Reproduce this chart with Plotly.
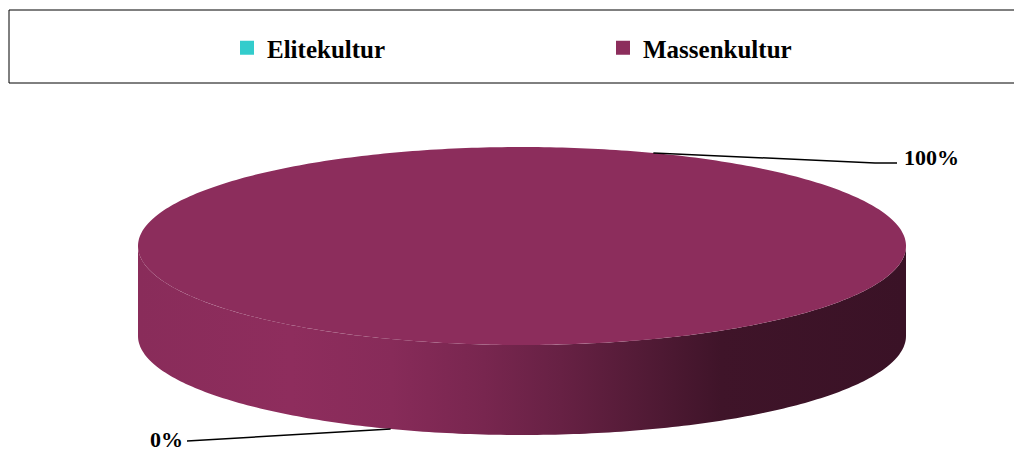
import numpy as np
import plotly.graph_objects as go

# chart data
categories = ["Elitekultur", "Massenkultur"]
values = [0, 100]
colors = ["#33CCCC", "#8C2D5C"]

W, H = 1014, 449
FONT = "Liberation Serif"

# 3d pie geometry (pixels)
cx, cy = 522, 246
rx, ry = 384, 99
depth = 90
first_angle = 200  # degrees, clockwise from 12 o'clock


def ell(phi, dz=0.0):
    r = np.radians(phi)
    return cx + rx * np.sin(r), cy - ry * np.cos(r) + dz


def shade(hex_color, f):
    h = hex_color.lstrip("#")
    rgb = [int(h[i:i + 2], 16) for i in (0, 2, 4)]
    return "rgb(%d,%d,%d)" % tuple(min(255, int(c * f)) for c in rgb)


vals = np.array(values, dtype=float)
frac = vals / vals.sum()
starts = first_angle + 360 * np.concatenate([[0], np.cumsum(frac)[:-1]])
ends = starts + 360 * frac

fig = go.Figure()

# side walls (front half of the cylinder only)
for i, cat in enumerate(categories):
    if frac[i] <= 0:
        continue
    if frac[i] >= 1:
        spans = [(90, 270)]
    else:
        spans = []
        for k in range(-1, 3):
            lo = max(starts[i], 90 + 360 * k)
            hi = min(ends[i], 270 + 360 * k)
            if hi > lo:
                spans.append((lo, hi))
    scale = [[0, shade(colors[i], 0.98)], [0.2, shade(colors[i], 1.02)],
             [0.33, shade(colors[i], 0.97)], [0.45, shade(colors[i], 0.86)],
             [0.55, shade(colors[i], 0.74)], [0.65, shade(colors[i], 0.6)],
             [0.76, shade(colors[i], 0.45)], [1, shade(colors[i], 0.42)]]
    for lo, hi in spans:
        a = np.linspace(lo, hi, 200)
        tx, ty = ell(a)
        bx, by = ell(a[::-1], depth)
        fig.add_trace(go.Scatter(
            x=np.concatenate([tx, bx]), y=np.concatenate([ty, by]),
            mode="none", fill="toself", showlegend=False, hoverinfo="skip",
            fillgradient=dict(type="horizontal", colorscale=scale,
                              start=cx - rx, stop=cx + rx)))

# top faces
for i, cat in enumerate(categories):
    if frac[i] <= 0:
        continue
    a = np.linspace(starts[i], ends[i], 400)
    ax, ay = ell(a)
    fig.add_trace(go.Scatter(
        x=np.concatenate([[cx], ax, [cx]]), y=np.concatenate([[cy], ay, [cy]]),
        mode="none", fill="toself", fillcolor=colors[i],
        showlegend=False, name=cat, hoverinfo="name"))

# data labels with leader lines
right_col, left_col = 897, 187
for i, cat in enumerate(categories):
    mid = (starts[i] + ends[i]) / 2
    front = np.cos(np.radians(mid)) < 0
    px_, py_ = ell(mid, depth if front else 0)
    right = np.sin(np.radians(mid)) > 0
    ex = right_col if right else left_col
    ey = py_ + (10 if right else 12)
    kx = ex - 22 if right else ex + 4
    fig.add_trace(go.Scatter(
        x=[px_, kx, ex], y=[py_, ey, ey], mode="lines",
        line=dict(color="black", width=1.5), showlegend=False, hoverinfo="skip"))
    fig.add_annotation(
        x=ex + (5 if right else -2), y=ey - (5.5 if right else 2),
        text="%d%%" % round(frac[i] * 100), showarrow=False,
        xanchor="left" if right else "right", yanchor="middle",
        font=dict(family=FONT, size=22, color="black", weight="bold"))

# legend entries
for i, cat in enumerate(categories):
    fig.add_trace(go.Scatter(
        x=[None], y=[None], mode="markers", name=cat,
        marker=dict(symbol="square", size=14, color=colors[i])))

# legend frame (runs off the right edge like the reference)
fig.add_shape(type="rect", x0=9, y0=10, x1=W + 10, y1=83,
              line=dict(color="black", width=1))

fig.update_layout(
    width=W, height=H, margin=dict(l=0, r=0, t=0, b=0),
    paper_bgcolor="white", plot_bgcolor="white",
    xaxis=dict(range=[0, W], visible=False, fixedrange=True),
    yaxis=dict(range=[H, 0], visible=False, fixedrange=True),
    showlegend=True,
    legend=dict(orientation="h", x=227 / W, xanchor="left",
                y=1 - 48 / H, yanchor="middle", entrywidth=331,
                font=dict(family=FONT, size=25, color="black", weight="bold"),
                bgcolor="rgba(0,0,0,0)"),
)

# drop the default body margin so the figure sits at the window origin
fig.write_html("out.html", config={"displayModeBar": False},
               post_script="document.body.style.margin='0';"
                           "document.body.style.overflow='hidden';")
